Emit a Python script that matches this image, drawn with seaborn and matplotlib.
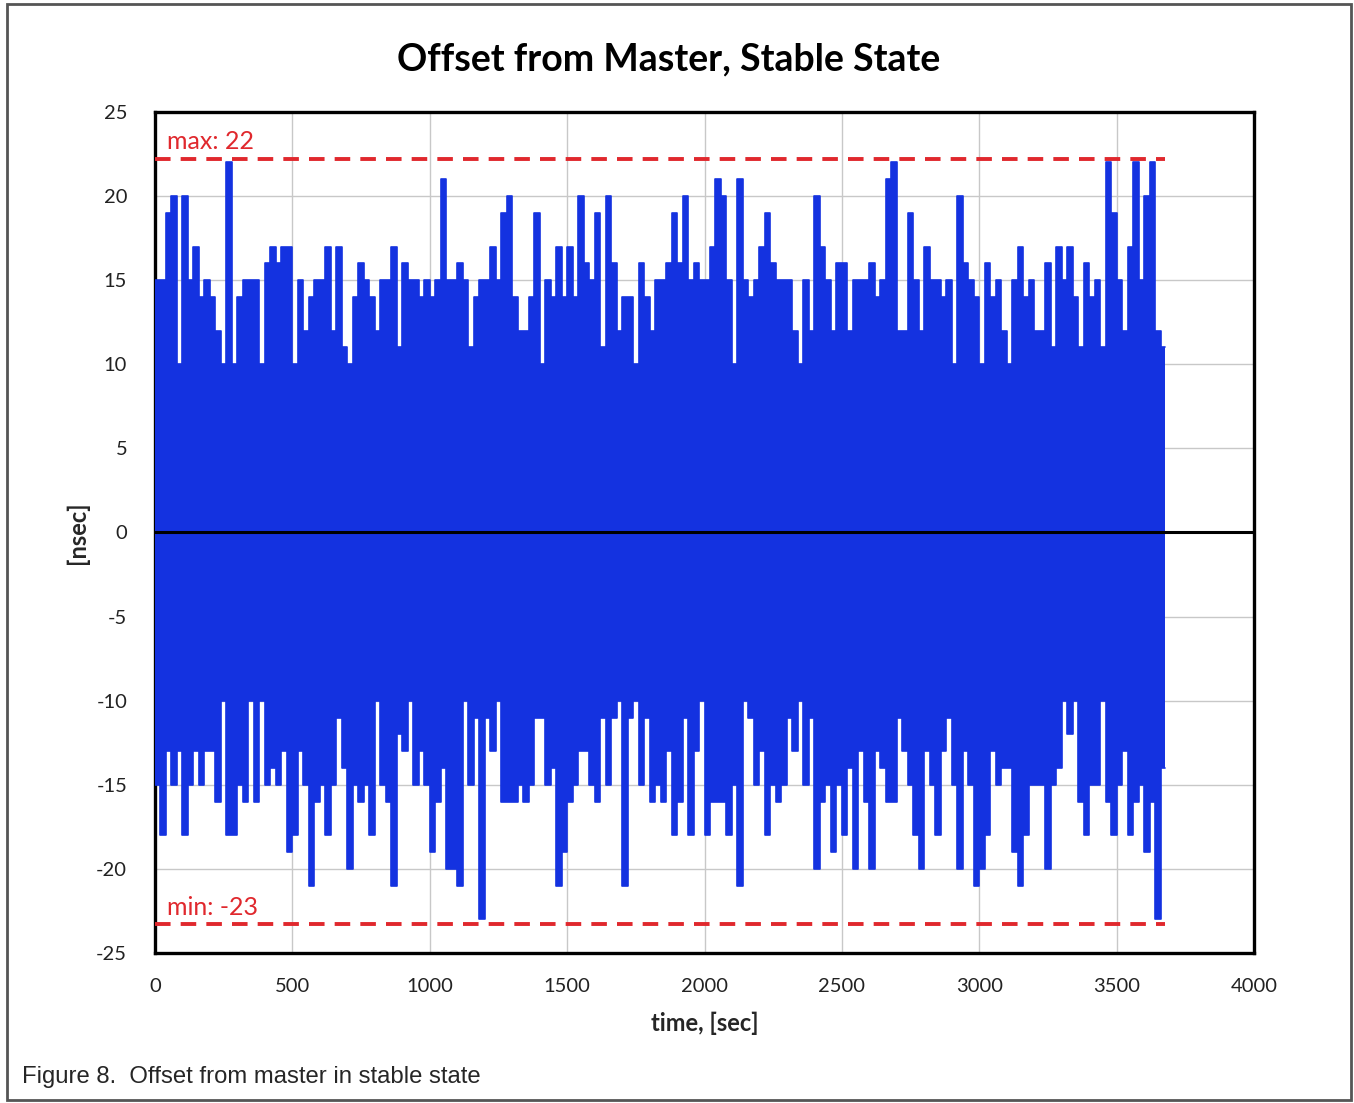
import matplotlib
matplotlib.use("Agg")
import matplotlib.pyplot as plt
import numpy as np
import pandas as pd
import seaborn as sns
from matplotlib.patches import Rectangle

# ---- data (20-second bins) ----
bin_start = list(range(0, 3680, 20))  # start time of each bin, sec
end_time = 3675

top = [15, 15, 19, 20, 10, 20, 15, 17, 14, 15,
       14, 12, 10, 22, 10, 14, 15, 15, 15, 10,
       16, 17, 16, 17, 17, 10, 15, 12, 14, 15,
       15, 17, 12, 17, 11, 10, 14, 16, 15, 14,
       12, 15, 15, 17, 11, 16, 15, 15, 14, 15,
       14, 15, 21, 15, 15, 16, 15, 11, 14, 15,
       15, 17, 15, 19, 20, 14, 12, 12, 14, 19,
       10, 15, 14, 17, 14, 17, 14, 20, 16, 15,
       19, 11, 20, 16, 12, 14, 14, 10, 16, 14,
       12, 15, 15, 16, 19, 16, 20, 15, 16, 15,
       15, 17, 21, 20, 15, 10, 21, 15, 14, 15,
       17, 19, 16, 15, 15, 15, 12, 10, 15, 12,
       20, 17, 15, 12, 16, 16, 12, 15, 15, 15,
       16, 14, 15, 21, 22, 12, 12, 19, 15, 12,
       17, 15, 15, 14, 15, 10, 20, 16, 15, 14,
       10, 16, 14, 15, 12, 10, 15, 17, 14, 15,
       12, 12, 16, 11, 17, 15, 17, 14, 11, 16,
       14, 15, 11, 22, 19, 15, 12, 17, 22, 15,
       20, 22, 12, 11]

bottom = [-15, -18, -13, -15, -13, -18, -15, -13, -15, -13,
          -13, -16, -10, -18, -18, -15, -16, -10, -16, -10,
          -15, -14, -15, -13, -19, -18, -13, -15, -21, -16,
          -15, -18, -15, -11, -14, -20, -15, -16, -15, -18,
          -10, -15, -16, -21, -12, -13, -10, -15, -13, -15,
          -19, -16, -14, -20, -20, -21, -10, -15, -11, -23,
          -11, -13, -10, -16, -16, -16, -15, -16, -15, -11,
          -11, -15, -14, -21, -19, -16, -15, -13, -13, -15,
          -16, -11, -15, -11, -10, -21, -11, -10, -15, -11,
          -16, -15, -16, -13, -18, -16, -11, -18, -13, -10,
          -18, -16, -16, -16, -18, -15, -21, -10, -11, -15,
          -13, -18, -15, -16, -15, -11, -13, -10, -15, -11,
          -20, -16, -15, -19, -15, -18, -14, -20, -13, -16,
          -20, -13, -14, -16, -16, -11, -13, -15, -18, -20,
          -13, -15, -18, -13, -11, -15, -20, -13, -15, -21,
          -20, -18, -13, -15, -14, -14, -19, -21, -18, -15,
          -15, -15, -20, -15, -14, -10, -12, -10, -16, -18,
          -15, -15, -10, -16, -18, -15, -13, -18, -16, -15,
          -19, -16, -23, -14]

max_value = 22
min_value = -23
max_line_level = 22.2
min_line_level = -23.3

x_ticks = [0, 500, 1000, 1500, 2000, 2500, 3000, 3500, 4000]
y_ticks = [25, 20, 15, 10, 5, 0, -5, -10, -15, -20, -25]

title = "Offset from Master, Stable State"
x_label = "time, [sec]"
y_label = "[nsec]"
caption = "Figure 8.  Offset from master in stable state"

BLUE = "#1432E0"
RED = "#E0282D"

# ---- build frame ----
edges = bin_start + [end_time]
top_e = top + [top[-1]]
bot_e = bottom + [bottom[-1]]
df = pd.DataFrame({
    "time": edges + edges,
    "value": top_e + bot_e,
    "edge": ["top"] * len(edges) + ["bottom"] * len(edges),
})

sns.set_style("white")
plt.rcParams["font.family"] = ["Lato", "DejaVu Sans"]
plt.rcParams["axes.unicode_minus"] = False

fig = plt.figure(figsize=(13.54, 11.03), dpi=100)
ax = fig.add_axes([155 / 1354, 1 - 953 / 1103, (1254 - 155) / 1354, (953 - 112) / 1103])

ax.fill_between(edges, bot_e, top_e, step="post", color=BLUE, linewidth=0, zorder=3)
sns.lineplot(data=df, x="time", y="value", hue="edge", palette=[BLUE, BLUE],
             drawstyle="steps-post", estimator=None, legend=False, linewidth=1.2,
             ax=ax, zorder=4)

ax.axhline(0, color="black", linewidth=2.2, zorder=5)

ax.plot([0, end_time], [max_line_level, max_line_level], color=RED, linewidth=2.8,
        dashes=(4, 2.6), zorder=6)
ax.plot([0, end_time], [min_line_level, min_line_level], color=RED, linewidth=2.8,
        dashes=(4, 2.6), zorder=6)
ax.text(45, 22.55, f"max: {max_value}", color=RED, fontsize=18, ha="left", va="bottom", zorder=7)
ax.text(45, -22.95, f"min: {min_value}", color=RED, fontsize=18, ha="left", va="bottom", zorder=7)

ax.set_xlim(0, 4000)
ax.set_ylim(-25, 25)
ax.set_xticks(x_ticks)
ax.set_yticks(y_ticks)
ax.tick_params(axis="both", labelsize=14.5, colors="#222222", length=4, width=1.2)
ax.tick_params(axis="x", pad=14)
ax.tick_params(axis="y", pad=16)
ax.grid(True, color="#C8C8C8", linewidth=1.0, zorder=0)
ax.set_axisbelow(True)
for s in ax.spines.values():
    s.set_visible(True)
    s.set_color("black")
    s.set_linewidth(2.4)

ax.set_xlabel(x_label, fontsize=17, fontweight="bold", labelpad=12)
ax.set_ylabel(y_label, fontsize=17, fontweight="bold", labelpad=5)

fig.text(669 / 1354, 1 - 59 / 1103, title, fontsize=27, fontweight="bold",
         ha="center", va="center", color="black")
fig.text(22 / 1354, 1 - 1077 / 1103, caption, fontsize=17.2, ha="left", va="center",
         family=["Liberation Sans", "DejaVu Sans"])

fig.patches.append(Rectangle((7 / 1354, 3 / 1103), 1344 / 1354, 1096 / 1103,
                             transform=fig.transFigure, fill=False,
                             edgecolor="#555555", linewidth=2))

fig.savefig("out.png", dpi=100, facecolor="white")
